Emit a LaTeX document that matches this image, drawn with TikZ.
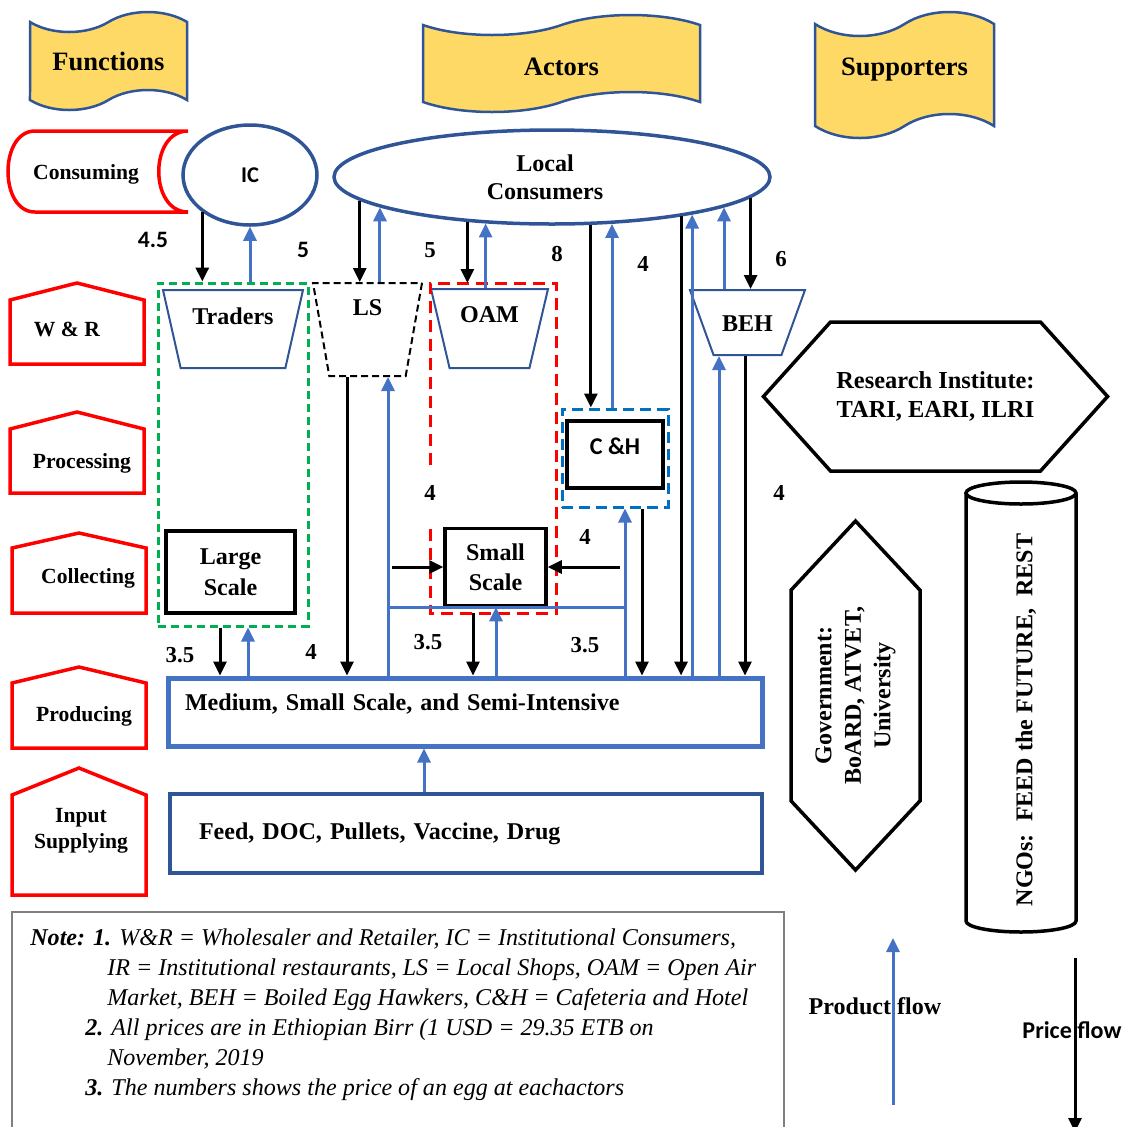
\documentclass[tikz,border=0pt]{standalone}
\usepackage{fontspec}
\setmainfont{Liberation Serif}
\newfontfamily\calib{Carlito}
\usetikzlibrary{arrows.meta,calc,fit,positioning,shapes.geometric,shapes.symbols}
\definecolor{bnfill}{RGB}{255,217,102}
\definecolor{bnline}{RGB}{47,85,151}
\definecolor{flowblue}{RGB}{68,114,196}
\definecolor{fnred}{RGB}{255,0,0}
\definecolor{grpgreen}{RGB}{0,176,80}
\definecolor{grpblue}{RGB}{0,112,192}
\newlength{\pxu}\setlength{\pxu}{0.02cm}
\begin{document}
\begin{tikzpicture}[x=\pxu,y=-\pxu,
  every node/.style={font=\bfseries\fontsize{13.7}{16}\selectfont,align=center},
  banner/.style={tape,draw=bnline,fill=bnfill,line width=2.5\pxu,tape bend height=20\pxu,font=\bfseries\fontsize{15.1}{18}\selectfont},
  fnline/.style={draw=fnred,line width=3.5\pxu,line join=miter},
  fntxt/.style={font=\bfseries\fontsize{12.3}{14.8}\selectfont},
  actor/.style={ellipse,draw=bnline,line width=3.5\pxu},
  shop/.style={trapezium,trapezium stretches body=true,shape border rotate=180,draw=bnline,line width=2\pxu},
  scalebox/.style={rectangle,draw,line width=3.5\pxu},
  support/.style={signal,signal to=east and west,draw,line width=3.5\pxu},
  price/.style={draw=black,line width=3\pxu,-{Triangle[length=0.28cm,width=0.26cm]}},
  product/.style={draw=flowblue,line width=3\pxu,-{Triangle[length=0.28cm,width=0.26cm]}},
  num/.style={font=\bfseries\fontsize{13}{15}\selectfont},
  notetxt/.style={anchor=base west,inner sep=0pt,font=\itshape\mdseries\fontsize{13.7}{16}\selectfont}]
\useasboundingbox (0,0) rectangle (1125,1127);

% headings
\node[banner,minimum width=157\pxu,minimum height=98\pxu] (fun) at (108.5,61) {Functions};
\node[banner,minimum width=277\pxu,minimum height=97\pxu,text height=0.49cm,text depth=0pt] (act) at (561.5,63.5) {Actors};
\node[banner,minimum width=179\pxu,minimum height=126\pxu,tape bend height=24\pxu,text height=0.36cm,text depth=0.36cm] (sup) at (904.5,75) {Supporters};

% functions column
\draw[fnline] (188,131) -- (35,131) .. controls (-1,131) and (-1,212) .. (35,212) -- (188,212) .. controls (149,212) and (149,131) .. (188,131) -- cycle;
\node[fntxt] (cons) at (86,174) {Consuming};
\draw[fnline] (10,364) -- (10,300) -- (77,283) -- (144,300) -- (144,364) -- cycle;
\node[fntxt] (wr) at (67,329) {W \& R};
\draw[fnline] (10,493) -- (10,429) -- (77,412) -- (144,429) -- (144,493) -- cycle;
\node[fntxt] (proc) at (82,463) {Processing};
\draw[fnline] (12,613) -- (12,548) -- (79,533) -- (146,548) -- (146,613) -- cycle;
\node[fntxt] (coll) at (88,578) {Collecting};
\draw[fnline] (12,748) -- (12,683) -- (79,667) -- (146,683) -- (146,748) -- cycle;
\node[fntxt] (prodf) at (84,716) {Producing};
\draw[fnline] (12,895) -- (12,795) -- (79,768) -- (146,795) -- (146,895) -- cycle;
\node[fntxt] (inpf) at (81,831) {Input\\Supplying};

% actors
\node[actor,minimum width=134\pxu,minimum height=100\pxu,font=\calib\bfseries\fontsize{12.8}{15}\selectfont] (ic) at (250,175) {IC};
\node[actor,minimum width=436\pxu,minimum height=94\pxu] (lc) at (552,177) {Local\hspace*{0.28cm}\\Consumers\hspace*{0.28cm}};
\node[draw=grpgreen,dash pattern=on 0.16cm off 0.1cm,line width=3\pxu,minimum width=150\pxu,minimum height=343\pxu] (grn) at (233,454.5) {};
\node[shop,trapezium left angle=73,trapezium right angle=73,minimum width=140\pxu,minimum height=78\pxu,text height=0.36cm,text depth=0.56cm] (trd) at (233,329) {Traders};
\node[shop,draw=black,dash pattern=on 0.14cm off 0.08cm,trapezium left angle=78,trapezium right angle=78,minimum width=109\pxu,minimum height=93\pxu,text height=0.36cm,text depth=0.94cm] (ls) at (367.5,329.5) {LS};
\node[outer sep=0pt,minimum width=126\pxu,minimum height=330\pxu] (redbox) at (493,448) {};
\node[shop,trapezium left angle=73,trapezium right angle=73,minimum width=117\pxu,minimum height=79\pxu,text height=0.36cm,text depth=0.62cm] (oam) at (489.5,328.5) {OAM};
\node[shop,trapezium left angle=70,trapezium right angle=70,minimum width=115\pxu,minimum height=65\pxu,text height=0.7cm,text depth=0.36cm] (beh) at (747.5,322.5) {BEH};
\node[draw=grpblue,dash pattern=on 0.22cm off 0.12cm,line width=3\pxu,minimum width=106\pxu,minimum height=98\pxu] (chb) at (615,458) {};
\node[scalebox,minimum width=96\pxu,minimum height=67\pxu,text height=0.3cm,text depth=0.3cm,font=\calib\bfseries\fontsize{13.7}{16}\selectfont] (ch) at (615,454.5) {C \&H};
\node[scalebox,minimum width=129\pxu,minimum height=82\pxu,font=\bfseries\fontsize{13.7}{17.5}\selectfont] (large) at (230.5,572) {Large\\Scale};
\node[scalebox,minimum width=101\pxu,minimum height=77\pxu,font=\bfseries\fontsize{13.7}{17}\selectfont] (small) at (495.5,567) {Small\\Scale};
\node[draw=flowblue,line width=5\pxu,minimum width=594\pxu,inner ysep=0pt,inner xsep=17\pxu,text width=560\pxu,align=left,text height=0.64cm,text depth=0.72cm] (prod) at (465,712) {Medium, Small Scale, and Semi-Intensive};
\node[draw=bnline,line width=3.5\pxu,minimum width=592\pxu,minimum height=79\pxu,inner xsep=29\pxu,text width=534\pxu,align=left] (inp) at (466,833.5) {Feed, DOC, Pullets, Vaccine, Drug};
\draw[fnred,dash pattern=on 0.24cm off 0.14cm,line width=3\pxu] ([yshift=-17\pxu]redbox.west) -- (redbox.north west) -- (redbox.north east) -- (redbox.south east) -- (redbox.south west) -- ([yshift=-77\pxu]redbox.west);

% supporters
\node[support,minimum width=330\pxu,minimum height=149\pxu,signal pointer angle=96,font=\bfseries\fontsize{13.9}{16.5}\selectfont] (res) at (935.5,396.5) {Research Institute:\\TARI, EARI, ILRI};
\node[support,rotate=90,minimum width=349\pxu,minimum height=129\pxu,signal pointer angle=86,font=\bfseries\fontsize{13.7}{16.8}\selectfont] (gov) at (855.5,695.5) {Government:\\BoARD, ATVET,\\University};
\draw[line width=3.5\pxu] (966,493) -- (966,921) arc[start angle=180,end angle=0,x radius=55,y radius=11] -- (1076,493);
\draw[line width=3.5\pxu] (1021,493) ellipse[x radius=55,y radius=11];
\node[rotate=90] (ngo) at (1026,720) {NGOs:~~FEED the FUTURE,~~REST};

% lanes of the flows
\coordinate (lsdn) at (347,0);
\coordinate (lsup) at (388,0);
\coordinate (lgdn) at (220,0);
\coordinate (lgup) at (248,0);
\coordinate (smdn) at (473,0);
\coordinate (smup) at (496,0);
\coordinate (chup) at (625,0);
\coordinate (chdn) at (642,0);
\coordinate (behup) at (719,0);
\coordinate (behdn) at (745,0);
\coordinate (inup) at (424,0);
\coordinate (smleft) at (392,567);
\coordinate (smright) at (620,567);

% consumers and W&R
\draw[price] (ic.-142.5) -- (ic.-142.5 |- grn.north);
\draw[product] (ic.south |- grn.north) -- (ic.south);
\draw[price] (lc.-173.1) -- (lc.-173.1 |- ls.north);
\draw[product] (lc.-170.4 |- ls.north) -- (lc.-170.4);
\draw[price] (lc.-152.9) -- (lc.-152.9 |- redbox.north);
\draw[product] (lc.-145.7 |- oam.north) -- (lc.-145.7);
\draw[price] (lc.-51.9) -- (lc.-51.9 |- chb.north);
\draw[product] (lc.-38.3 |- chb.north) -- (lc.-38.3);
\draw[price] (lc.-17.6) -- (lc.-17.6 |- prod.north);
\draw[product] (lc.-15.4 |- prod.north) -- (lc.-15.4);
\draw[product] (lc.-10.7 |- beh.north) -- (lc.-10.7);
\draw[price] (lc.-6.5) -- (lc.-6.5 |- beh.north);

% down to the producers
\draw[price] (ls.south -| lsdn) -- (prod.north -| lsdn);
\draw[product] (prod.north -| lsup) -- (ls.south -| lsup);
\draw[flowblue,line width=3\pxu] (small.south -| lsup) -- (small.south -| chup);
\draw[product] (prod.north -| chup) -- (chb.south -| chup);
\draw[price] (chb.south -| chdn) -- (prod.north -| chdn);
\draw[product] (prod.north -| behup) -- (beh.south -| behup);
\draw[price] (beh.south -| behdn) -- (prod.north -| behdn);
\draw[price] (redbox.south -| smdn) -- (prod.north -| smdn);
\draw[product] (prod.north -| smup) -- (small.south -| smup);
\draw[price] (grn.south -| lgdn) -- (prod.north -| lgdn);
\draw[product] (prod.north -| lgup) -- (grn.south -| lgup);
\draw[price] (smleft) -- (small.west);
\draw[price] (smright) -- (small.east);
\draw[product] (inp.north -| inup) -- (prod.south -| inup);

% prices
\node[num,font=\calib\bfseries\fontsize{13.4}{15}\selectfont] (p45) at (153,240) {4.5};
\node[num,font=\calib\bfseries\fontsize{13.4}{15}\selectfont] (p5a) at (303,250) {5};
\node[num] (p5b) at (430,250) {5};
\node[num] (p8) at (557,254) {8};
\node[num] (p4a) at (643,264) {4};
\node[num] (p6) at (781,259) {6};
\node[num] (p4b) at (779,493) {4};
\node[num] (p4c) at (430,493) {4};
\node[num] (p4d) at (585,537) {4};
\node[num] (p35a) at (180,655) {3.5};
\node[num] (p4e) at (311,652) {4};
\node[num] (p35b) at (428,642) {3.5};
\node[num] (p35c) at (585,645) {3.5};

% note
\node[draw=gray,line width=1.5\pxu,minimum width=772\pxu,minimum height=228\pxu] (note) at (398,1026) {};
\node[notetxt] (nt1) at (30,945) {\bfseries Note: 1. \mdseries W\&R = Wholesaler and Retailer, IC = Institutional Consumers,};
\node[notetxt] (nt2) at (107,975) {IR = Institutional restaurants, LS = Local Shops, OAM = Open Air};
\node[notetxt] (nt3) at (107,1005) {Market, BEH = Boiled Egg Hawkers, C\&H = Cafeteria and Hotel};
\node[notetxt] (nt4) at (85,1035) {\bfseries 2. \mdseries All prices are in Ethiopian Birr (1 USD = 29.35 ETB on};
\node[notetxt] (nt5) at (107,1065) {November, 2019};
\node[notetxt] (nt6) at (85,1095) {\bfseries 3. \mdseries The numbers shows the price of an egg at eachactors};

% legend
\coordinate (pfrom) at (893,1105);
\coordinate (pto) at (893,938);
\coordinate (qfrom) at (1075,958);
\coordinate (qto) at (1075,1132);
\node (prodleg) at (875,1006) {Product flow};
\node[font=\calib\bfseries\fontsize{13.7}{16}\selectfont] (priceleg) at (1072,1030) {Price flow};
\draw[product] (pfrom) -- (pto);
\draw[price] (qfrom) -- (qto);
\end{tikzpicture}
\end{document}
